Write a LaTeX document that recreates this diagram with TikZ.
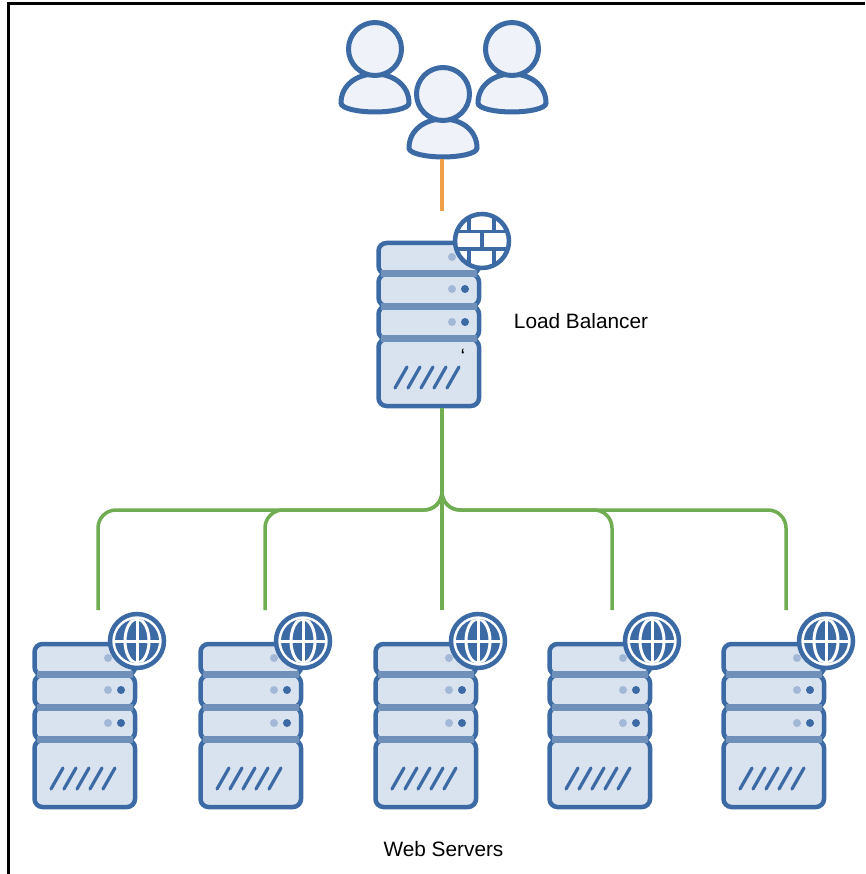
\documentclass[tikz,border=0pt]{standalone}
\usepackage{fontspec}
\setmainfont{Liberation Sans}
\usepackage{tikz}
\usetikzlibrary{positioning}

\definecolor{iconblue}{HTML}{3B6AA5}
\definecolor{bandblue}{HTML}{6F90B8}
\definecolor{rackfill}{HTML}{D9E2EF}
\definecolor{dotlight}{HTML}{A3B8D6}
\definecolor{userfill}{HTML}{EFF3F9}
\definecolor{wiregreen}{HTML}{70AD52}
\definecolor{wireorange}{HTML}{EF9F45}

\begin{document}
\begin{tikzpicture}[x=1pt,y=-1pt]
    \tikzstyle{rack}=[minimum width=104pt, minimum height=166pt, inner sep=0pt, anchor=north west];
    \tikzstyle{rackrow}=[draw=iconblue, line width=4.5pt, fill=rackfill, rounded corners=8pt];
    \tikzstyle{userbox}=[minimum width=72pt, minimum height=110pt, inner sep=0pt];
    \tikzstyle{userline}=[draw=iconblue, line width=5pt, fill=userfill];
    \tikzstyle{label}=[font=\fontsize{20.8}{24}\selectfont, inner sep=0pt];
    \tikzstyle{greenwire}=[draw=wiregreen, line width=3.5pt, rounded corners=18pt];
    \tikzstyle{orangewire}=[draw=wireorange, line width=3.5pt];

    \tikzset{
        rackpic/.pic={
            \foreach \a/\b in {2/33,33/65,65/98,98/165} {
                \path[rackrow] (1.5,\a) rectangle (102,\b);
            }
            \foreach \a in {29,62,94} {
                \fill[bandblue] (4,\a) rectangle (99.5,\a+7);
            }
            \foreach \y in {16,48,81} {
                \fill[dotlight] (75,\y) circle (4);
                \fill[iconblue] (88,\y) circle (4);
            }
            \foreach \x in {0,13,...,52} {
                \draw[iconblue, line width=3.2pt, line cap=round] (\x+18,147) -- (\x+30,126);
            }
        },
        globepic/.pic={
            \path[draw=iconblue, fill=white, line width=4.5pt] (0,0) circle (27);
            \fill[iconblue] (0,0) circle (22);
            \begin{scope}
                \clip (0,0) circle (22);
                \draw[white, line width=3pt] (0,0) ellipse (12 and 22);
                \draw[white, line width=3pt] (-24,0) -- (24,0);
                \draw[white, line width=3pt] (0,-24) -- (0,24);
            \end{scope}
        },
        wallpic/.pic={
            \path[fill=white] (0,0) circle (27);
            \begin{scope}
                \clip (0,0) circle (27);
                \foreach \y in {-9.5,8} {
                    \draw[iconblue, line width=3.5pt] (-28,\y) -- (28,\y);
                }
                \foreach \x/\a/\b in {-13/-30/-9.5,12/-30/-9.5,0/-9.5/8,-13/8/30,12/8/30} {
                    \draw[iconblue, line width=3.5pt] (\x,\a) -- (\x,\b);
                }
            \end{scope}
            \draw[iconblue, line width=4.5pt] (0,0) circle (27);
        },
        userpic/.pic={
            \path[userline] (-34,54) .. controls (-34,36) and (-18,25) .. (0,25)
                .. controls (18,25) and (34,36) .. (34,54)
                .. controls (34,60) and (15,63) .. (0,63)
                .. controls (-15,63) and (-34,60) .. (-34,54) -- cycle;
            \path[userline] (0,0) circle (26.5);
        }
    }

    \useasboundingbox (0,0) rectangle (865,874);
    % frame
    \draw[black, line width=3pt] (8.5,874) -- (8.5,3.5) -- (865,3.5);

    % users
    \foreach \n/\x/\y in {usera/375/49,userb/512/49,userc/443/94} {
        \pic at (\x,\y) {userpic};
        \node[userbox] (\n) at (\x,\y+10) {};
    }

    % load balancer
    \node[rack] (lb) at (377,241) {};
    \pic at (lb.north west) {rackpic};
    \pic at (482,241) {wallpic};
    \node[label] (tick) at (463,356) {`};
    \node[label] (lblabel) at (581,321) {Load Balancer};

    % web servers
    \foreach \n/\x in {1/33,2/199,3/374,4/548,5/722} {
        \node[rack] (web\n) at (\x,642) {};
        \pic at (web\n.north west) {rackpic};
        \pic at (\x+104,641) {globepic};
    }
    \node[label] (weblabel) at (443.5,849) {Web Servers};

    % connectors
    \coordinate (lbin) at (442,211);
    \coordinate (lbout) at (442,408);
    \draw[orangewire] (userc.south -| lbin) -- (lbin);
    \foreach \n/\x in {1/98,2/265,4/612,5/786} {
        \coordinate (drop\n) at (\x,610);
        \draw[greenwire] (lbout) -- ++(0,102) -| (drop\n);
    }
    \coordinate (drop3) at (442,610);
    \draw[greenwire] (lbout) -- (drop3);
\end{tikzpicture}
\end{document}
